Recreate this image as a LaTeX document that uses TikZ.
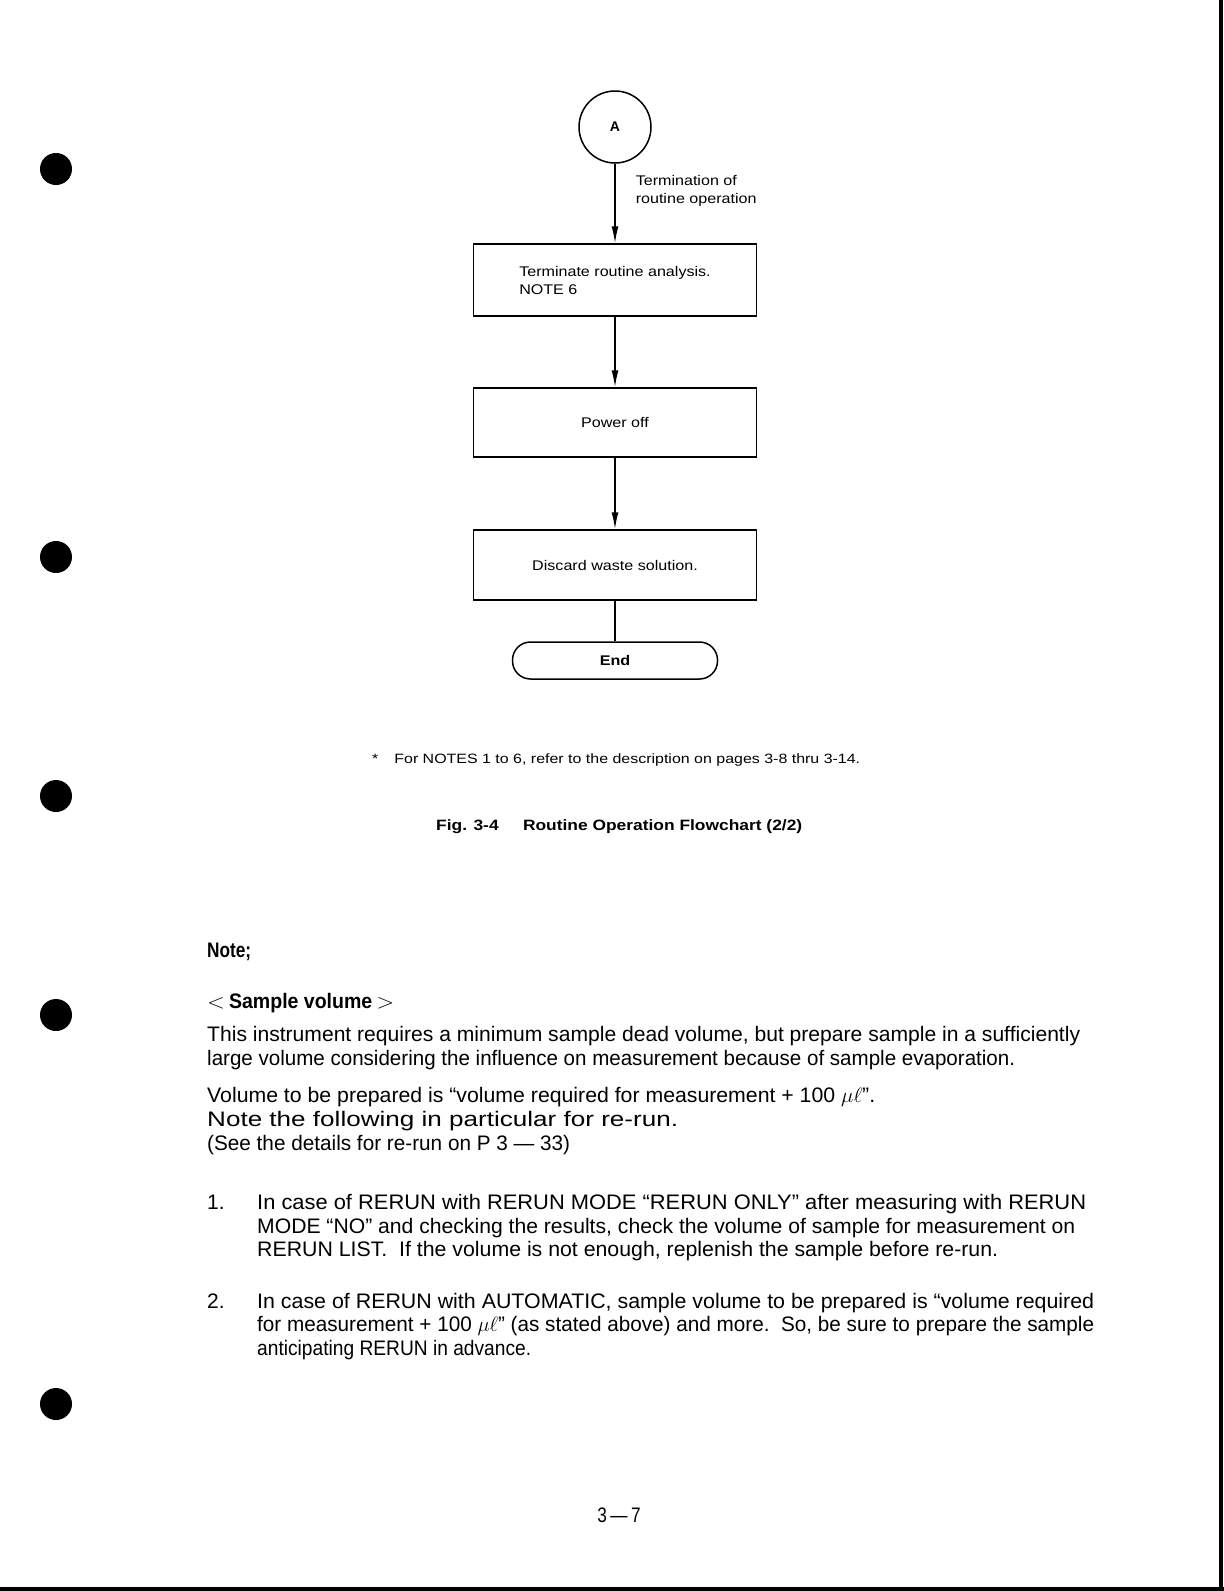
\documentclass[tikz,border=0pt]{standalone}
\usepackage{fontspec}
\setmainfont{Liberation Sans}
\newfontfamily\narrowfont[FakeStretch=0.82,Ligatures=TeX]{Liberation Sans}
\newfontfamily\chartfont[FakeStretch=1.15,Ligatures=TeX]{Liberation Sans}
\usepackage{graphicx}
\usetikzlibrary{arrows.meta}
\tikzset{font={\fontsize{14pt}{18pt}\chartfont}}
% stretch one typed line to the width it has on the page
\newsavebox\linebox
\newcommand\fitline[2]{\sbox\linebox{#2}\pgfmathsetmacro\linescale{#1/\the\wd\linebox}\scalebox{\linescale}[1]{\usebox\linebox}}

\begin{document}
\begin{tikzpicture}[x=1pt,y=-1pt,
    procbox/.style={draw,line width=1.5pt,minimum width=283pt,minimum height=70pt,align=left,inner sep=0pt},
    connector/.style={draw,circle,line width=1.5pt,minimum size=72pt,inner sep=0pt,font={\fontsize{14pt}{16pt}\selectfont\bfseries}},
    endbox/.style={draw,rounded corners=18pt,line width=1.5pt,minimum width=205pt,minimum height=37pt,inner sep=0pt,font={\fontsize{14pt}{16pt}\chartfont\bfseries}},
    flow/.style={line width=1.5pt,-{Latex[length=17pt,width=7pt]}},
    bodyline/.style={anchor=base west,inner sep=0pt,font={\fontsize{21pt}{24pt}\selectfont}},
    headline/.style={anchor=base west,inner sep=0pt,font={\fontsize{21pt}{24pt}\narrowfont\bfseries}}]
  \useasboundingbox (0,0) rectangle (1224,1591);
  %page frame
  \draw[line width=4pt] (1221,0) -- (1221,1591);
  \draw[line width=4pt] (0,1589) -- (1224,1589);
  %punch holes
  \foreach \y in {169,557,796,1015,1404}
    \fill (56,\y) circle[radius=16pt];
  %flowchart
  \node[connector] (A) at (615,127) {A};
  \node[procbox,minimum height=72pt] (term) at (615,280) {Terminate routine analysis.\\NOTE 6};
  \node[procbox,minimum height=69pt] (power) at (615,422.5) {Power off};
  \node[procbox] (discard) at (615,565) {Discard waste solution.};
  \node[endbox] (end) at (615,660.5) {End};
  \draw[flow] (A) -- node[pos=0.34,anchor=west,xshift=20pt,inner sep=0pt,align=left] (termlabel) {Termination of\\routine operation} (term);
  \draw[flow] (term) -- (power);
  \draw[flow] (power) -- (discard);
  \draw[line width=1.5pt] (discard) -- (end);
  %footnote and caption
  \node[anchor=base west,inner sep=0pt,font={\fontsize{13.5pt}{18pt}\selectfont}] (foot) at (372,763) {\fitline{488}{*\quad For NOTES 1 to 6, refer to the description on pages 3-8 thru 3-14.}};
  \node[anchor=base west,inner sep=0pt,font={\fontsize{15pt}{18pt}\selectfont\bfseries}] (caption) at (436,830) {\fitline{366}{Fig. 3-4\hspace{1.4em}Routine Operation Flowchart (2/2)}};
  %note text
  \node[headline] (note) at (207,957) {Note;};
  \node[headline] (sample) at (207,1008) {\fitline{187}{$<$\,Sample volume\,$>$}};
  \node[bodyline] (para1) at (207,1041) {\fitline{873}{This instrument requires a minimum sample dead volume, but prepare sample in a sufficiently}};
  \node[bodyline] (para2) at (207,1065) {\fitline{808}{large volume considering the influence on measurement because of sample evaporation.}};
  \node[bodyline] (para3) at (207,1102) {\fitline{668}{Volume to be prepared is ``volume required for measurement + 100 $\mu\ell$''.}};
  \node[bodyline] (para4) at (207,1126) {\fitline{471}{Note the following in particular for re-run.}};
  \node[bodyline] (para5) at (207,1150) {\fitline{363}{(See the details for re-run on P 3 --- 33)}};
  %numbered items
  \node[bodyline] (num1) at (207,1209) {1.};
  \node[bodyline] (itemA1) at (257,1209) {\fitline{829}{In case of RERUN with RERUN MODE ``RERUN ONLY'' after measuring with RERUN}};
  \node[bodyline] (itemA2) at (257,1233) {\fitline{818}{MODE ``NO'' and checking the results, check the volume of sample for measurement on}};
  \node[bodyline] (itemA3) at (257,1256) {\fitline{741}{RERUN LIST.\ \ If the volume is not enough, replenish the sample before re-run.}};
  \node[bodyline] (num2) at (207,1308) {2.};
  \node[bodyline] (itemB1) at (257,1308) {\fitline{837}{In case of RERUN with AUTOMATIC, sample volume to be prepared is ``volume required}};
  \node[bodyline] (itemB2) at (257,1331) {\fitline{837}{for measurement + 100 $\mu\ell$'' (as stated above) and more.\ \ So, be sure to prepare the sample}};
  \node[bodyline] (itemB3) at (257,1355) {\fitline{274}{anticipating RERUN in advance.}};
  %page number
  \node[anchor=base,inner sep=0pt,font={\fontsize{21pt}{24pt}\narrowfont}] (page) at (619,1522) {3\,\textemdash\,7};
\end{tikzpicture}
\end{document}
